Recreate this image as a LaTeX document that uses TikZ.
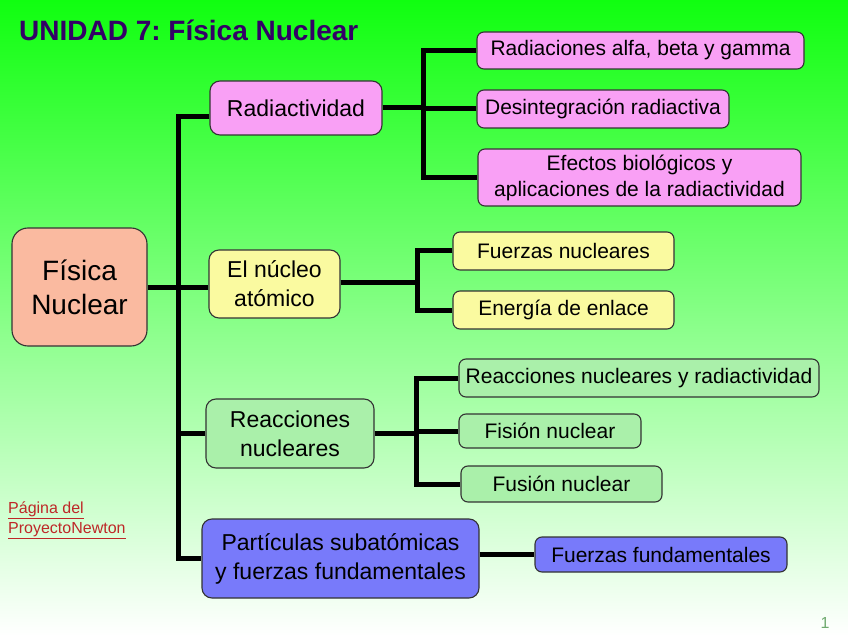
\documentclass[tikz,border=0pt]{standalone}
\usepackage{fontspec}
\setmainfont{Liberation Sans}
\frenchspacing
\definecolor{topgreen}{RGB}{16,255,16}
\definecolor{midgreen}{RGB}{150,255,150}
\definecolor{titlepurple}{RGB}{51,0,102}
\definecolor{rootfill}{RGB}{250,186,160}
\definecolor{radfill}{RGB}{249,160,245}
\definecolor{nucfill}{RGB}{250,250,160}
\definecolor{reacfill}{RGB}{170,240,170}
\definecolor{partfill}{RGB}{120,122,250}
\definecolor{linkred}{RGB}{190,40,40}
\definecolor{pagegray}{RGB}{110,170,110}
\tikzset{
	box/.style={draw=black!80, line width=1.1pt, align=center, inner sep=0pt, text=black},
	rootbox/.style={box, rounded corners=16pt, font=\fontsize{28}{34}\selectfont},
	mainbox/.style={box, rounded corners=10pt, font=\fontsize{23}{29}\selectfont},
	leafbox/.style={box, rounded corners=7pt, font=\fontsize{21}{26}\selectfont},
	conn/.style={line width=5pt, black}
}
\begin{document}
\begin{tikzpicture}[x=1pt,y=-1pt]
			\useasboundingbox (0,0) rectangle (848,636);
			%Background
			\shade[top color=topgreen, middle color=midgreen, bottom color=white] (0,0) rectangle (848,636);
			%Title
			\node[anchor=base west, inner sep=0pt, text=titlepurple, font=\bfseries\fontsize{28}{32}\selectfont] (title) at (19,41) {UNIDAD 7: Física Nuclear};
			%Main nodes
			\node[rootbox, fill=rootfill, minimum width=135pt, minimum height=118pt] (root) at (79.5,287) {Física\\Nuclear};
			\node[mainbox, fill=radfill, minimum width=172pt, minimum height=54pt] (radiac) at (296,108) {Radiactividad};
			\node[mainbox, fill=nucfill, minimum width=131pt, minimum height=68pt] (nucleo) at (274.5,284) {El núcleo\\atómico};
			\node[mainbox, fill=reacfill, minimum width=168pt, minimum height=69pt] (reac) at (290,433.5) {Reacciones\\nucleares};
			\node[mainbox, fill=partfill, minimum width=277pt, minimum height=79pt] (part) at (340.5,558.5) {Partículas subatómicas\\y fuerzas fundamentales};
			%Leaves
			\node[leafbox, fill=radfill, minimum width=327pt, minimum height=37pt] (alfa) at (640.5,50.5) {Radiaciones alfa, beta y gamma};
			\node[leafbox, fill=radfill, minimum width=252pt, minimum height=38pt] (desint) at (603,109) {Desintegración radiactiva};
			\node[leafbox, fill=radfill, minimum width=323pt, minimum height=57pt] (efectos) at (639.5,177.5) {Efectos biológicos y\\aplicaciones de la radiactividad};
			\node[leafbox, fill=nucfill, minimum width=221pt, minimum height=38pt] (fnuc) at (563.5,251) {Fuerzas nucleares};
			\node[leafbox, fill=nucfill, minimum width=221pt, minimum height=38pt] (enlace) at (563.5,310) {Energía de enlace};
			\node[leafbox, fill=reacfill, minimum width=360pt, minimum height=38pt] (rnr) at (639,378) {Reacciones nucleares y radiactividad};
			\node[leafbox, fill=reacfill, minimum width=182pt, minimum height=34pt] (fision) at (550,431) {Fisión nuclear};
			\node[leafbox, fill=reacfill, minimum width=201pt, minimum height=36pt] (fusion) at (561.5,484) {Fusión nuclear};
			\node[leafbox, fill=partfill, minimum width=252pt, minimum height=35pt] (ffund) at (661,554.5) {Fuerzas fundamentales};
			%Buses
			\coordinate (trunk) at (178,0);
			\coordinate (rbus) at (423,0);
			\coordinate (nbus) at (417,0);
			\coordinate (cbus) at (416,0);
			%Connectors
			\draw[conn] (root.east) -- (root.east -| nucleo.west);
			\draw[conn] ([yshift=-9pt]radiac.west) -- ([yshift=-9pt]radiac.west -| trunk) -- (part.west -| trunk) -- (part.west);
			\draw[conn] (reac.west) -- (reac.west -| trunk);
			\draw[conn] (radiac.east) -- (radiac.east -| rbus);
			\draw[conn] (alfa.west) -- (alfa.west -| rbus) -- (efectos.west -| rbus) -- (efectos.west);
			\draw[conn] (desint.west) -- (desint.west -| rbus);
			\draw[conn] ([yshift=2pt]nucleo.east) -- ([yshift=2pt]nucleo.east -| nbus);
			\draw[conn] (fnuc.west) -- (fnuc.west -| nbus) -- (enlace.west -| nbus) -- (enlace.west);
			\draw[conn] (reac.east) -- (reac.east -| cbus);
			\draw[conn] (rnr.west) -- (rnr.west -| cbus) -- (fusion.west -| cbus) -- (fusion.west);
			\draw[conn] (fision.west) -- (fision.west -| cbus);
			\draw[conn] (ffund.west -| part.east) -- (ffund.west);
			%Link and page number
			\node[anchor=base west, inner sep=0pt, text=linkred, font=\fontsize{16}{20}\selectfont] (link1) at (8,513) {\underline{Página del}};
			\node[anchor=base west, inner sep=0pt, text=linkred, font=\fontsize{16}{20}\selectfont] (link2) at (8,533) {\underline{ProyectoNewton}};
			\node[anchor=base, inner sep=0pt, text=pagegray, font=\fontsize{16}{18}\selectfont] (pagenum) at (825,628) {1};
		\end{tikzpicture}
\end{document}
